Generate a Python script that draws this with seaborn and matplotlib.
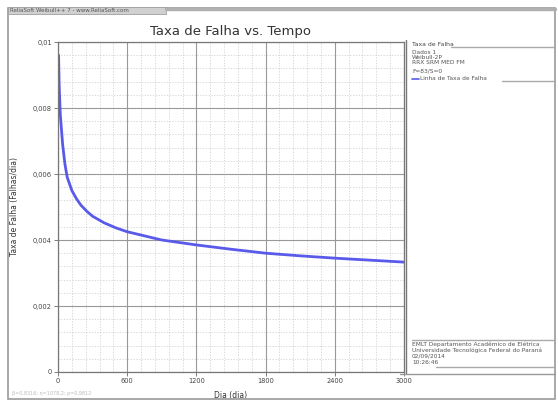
import matplotlib
matplotlib.use("Agg")
import matplotlib.pyplot as plt
from matplotlib.patches import Rectangle
from matplotlib.lines import Line2D
from matplotlib.ticker import MultipleLocator
import seaborn as sns
import pandas as pd

sns.set_theme(style="white")
plt.rcParams['font.family'] = ['DejaVu Sans']

# data (time in days, failure rate per day)
tempo = [5, 10, 20, 40, 60, 80, 120, 160, 200, 250, 300, 400, 500, 600, 900,
         1200, 1500, 1800, 2100, 2400, 2700, 3000]
taxa = [0.0096, 0.0087, 0.0078, 0.0069, 0.0063, 0.0059, 0.0055, 0.00525,
        0.00505, 0.00487, 0.00472, 0.00452, 0.00437, 0.00425, 0.0040, 0.00385,
        0.00372, 0.0036, 0.00352, 0.00345, 0.00339, 0.00333]
x_ticks = [0, 600, 1200, 1800, 2400, 3000]
y_ticks = [0, 0.002, 0.004, 0.006, 0.008, 0.01]
y_tick_labels = ["0", "0,002", "0,004", "0,006", "0,008", "0,01"]

df = pd.DataFrame({"Tempo": tempo, "Taxa": taxa})

W, H = 558, 405
fig = plt.figure(figsize=(W / 100, H / 100), dpi=100)
fig.patch.set_facecolor("white")

def fx(px):
    return px / W

def fy(py):
    return 1 - py / H

def hline(x0, x1, y, color="#aaaaaa", lw=1.0):
    fig.add_artist(Line2D([fx(x0), fx(x1)], [fy(y), fy(y)], transform=fig.transFigure,
                          color=color, linewidth=lw))

# outer frame
fig.patches.append(Rectangle((fx(8), fy(399)), fx(547), 391 / H, transform=fig.transFigure,
                             fill=False, edgecolor="#9a9a9a", linewidth=1.2))
# header bar
fig.patches.append(Rectangle((fx(8), fy(14)), fx(158), 7 / H, transform=fig.transFigure,
                             facecolor="#d0d0d0", edgecolor="#a0a0a0", linewidth=0.6))
fig.text(fx(10), fy(10.5), "ReliaSoft Weibull++ 7 - www.ReliaSoft.com", fontsize=4,
         color="#555555", va="center", ha="left")
hline(166, 555, 9, color="#b0b0b0", lw=2.5)

ax = fig.add_axes([fx(58), fy(372), fx(404 - 58), (372 - 42) / H])
sns.lineplot(data=df, x="Tempo", y="Taxa", ax=ax, color="#5a5aea", linewidth=2.0)

ax.set_xlim(0, 3000)
ax.set_ylim(0, 0.01)
ax.set_xticks(x_ticks)
ax.set_xticklabels([str(v) for v in x_ticks])
ax.set_yticks(y_ticks)
ax.set_yticklabels(y_tick_labels)
ax.xaxis.set_minor_locator(MultipleLocator(120))
ax.yaxis.set_minor_locator(MultipleLocator(0.0004))
ax.grid(which="major", color="#999999", linewidth=0.8)
ax.grid(which="minor", color="#cccccc", linewidth=0.5, linestyle=(0, (2, 2)))
ax.set_axisbelow(True)
ax.tick_params(axis="both", which="major", labelsize=4.8, length=3, width=0.6,
               color="#666666", labelcolor="#444444", direction="out", pad=1.5)
ax.tick_params(axis="both", which="minor", length=0)
ax.tick_params(bottom=True, left=True)
for s in ax.spines.values():
    s.set_color("#777777")
    s.set_linewidth(0.9)
ax.set_xlabel("Dia (dia)", fontsize=5.5, color="#333333", labelpad=5)
ax.set_ylabel("Taxa de Falha (Falhas/dia)", fontsize=5.5, color="#333333", labelpad=10)
ax.set_title("Taxa de Falha vs. Tempo", fontsize=9.5, color="#333333", pad=5)

# right panel
fig.add_artist(Line2D([fx(406), fx(406)], [fy(40), fy(374)], transform=fig.transFigure,
                      color="#777777", linewidth=1.0))
hline(400, 555, 374, color="#999999")
fig.text(fx(412), fy(45), "Taxa de Falha", fontsize=4.4, color="#444444", va="center")
hline(451, 555, 47)
legend_lines = ["Dados 1", "Weibull-2P", "RRX SRM MED FM", "F=83/S=0"]
legend_y = [52, 57.5, 63, 71]
for t, yy in zip(legend_lines, legend_y):
    fig.text(fx(412), fy(yy), t, fontsize=4.2, color="#555555", va="center")
fig.add_artist(Line2D([fx(412), fx(419)], [fy(79), fy(79)], transform=fig.transFigure,
                      color="#5a5aea", linewidth=1.2))
fig.text(fx(420), fy(79), "Linha de Taxa de Falha", fontsize=4.2, color="#555555", va="center")
hline(502, 555, 81)

bottom_lines = ["EMLT Departamento Acadêmico de Elétrica",
                "Universidade Tecnológica Federal do Paraná",
                "02/09/2014", "10:26:46"]
hline(412, 555, 340)
for i, t in enumerate(bottom_lines):
    fig.text(fx(412), fy(344 + i * 6), t, fontsize=4.2, color="#555555", va="center")
hline(436, 555, 367)

fig.text(fx(12), fy(393), "β=0,8316; η=1078,2; ρ=0,9812", fontsize=3.5, color="#bbbbbb",
         va="center")

fig.savefig("out.png", dpi=100)
